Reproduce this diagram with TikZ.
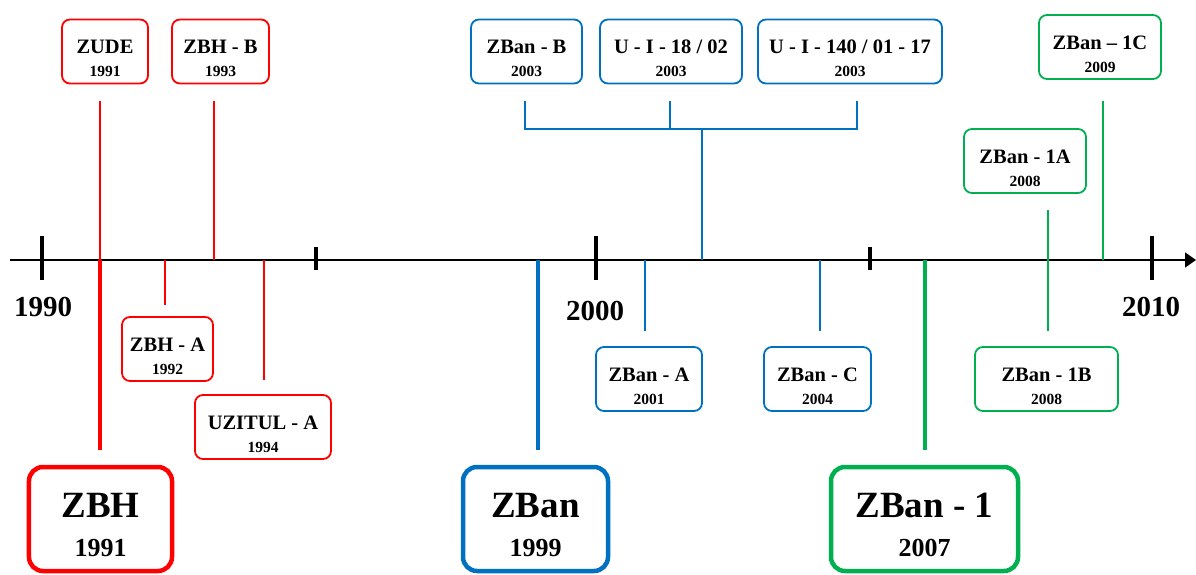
\documentclass[tikz,border=0pt]{standalone}
\usepackage{fontspec}
\setmainfont{Liberation Serif}
\usepackage{xcolor}
\usepackage{tikz}
\usetikzlibrary{arrows.meta,positioning,calc}

\definecolor{zred}{RGB}{255,0,0}
\definecolor{zblue}{RGB}{0,112,192}
\definecolor{zgreen}{RGB}{0,176,80}

% name over year, the strut pushes the two lines down in the box
\newcommand{\evlabel}[2]{\rule{0pt}{28bp}{\fontsize{20.5bp}{23bp}\selectfont #1}\\#2}
\newcommand{\biglabel}[2]{\rule{0pt}{37bp}{\fontsize{37bp}{39bp}\selectfont #1}\\#2}

\begin{document}
\begin{tikzpicture}[
    x=1bp, y=-1bp,
    font=\bfseries,
    ev/.style={draw, rounded corners=8bp, line width=1.8bp, align=center,
      inner sep=0pt, minimum height=64bp,
      font=\bfseries\fontsize{15.5bp}{23bp}\selectfont},
    big/.style={draw, rounded corners=14bp, line width=4.5bp, align=center,
      inner sep=0pt, minimum height=104bp,
      font=\bfseries\fontsize{26bp}{39bp}\selectfont},
    redev/.style={ev, draw=zred},
    blueev/.style={ev, draw=zblue},
    greenev/.style={ev, draw=zgreen},
    link/.style={line width=1.8bp},
    trunk/.style={line width=4.5bp},
    major/.style={line width=3.8bp},
    minor/.style={line width=3.2bp},
    decade/.style={anchor=base, font=\bfseries\fontsize{29bp}{29bp}\selectfont},
  ]
  \useasboundingbox (0,0) rectangle (1196,575);

  % Time axis
  \draw[line width=1.8bp, -{Triangle[length=11bp, width=15bp]}] (10,260) -- (1196,260);
  \foreach \x in {42,596,1152} \draw[major] (\x,236) -- (\x,280);
  \foreach \x in {316,870} \draw[minor] (\x,247) -- (\x,270);
  \node[decade] (d1990) at (43,317) {1990};
  \node[decade] (d2000) at (595,321) {2000};
  \node[decade] (d2010) at (1151,317) {2010};

  % Points on the axis
  \coordinate (a91) at (100,260);
  \coordinate (a92) at (165,260);
  \coordinate (a93) at (214,260);
  \coordinate (a94) at (264,260);
  \coordinate (a99) at (538,260);
  \coordinate (a01) at (645,260);
  \coordinate (a03) at (702,260);
  \coordinate (a04) at (820,260);
  \coordinate (a07) at (925,260);
  \coordinate (a08) at (1048,260);
  \coordinate (a09) at (1103,260);
  \coordinate (brk) at (702,129);

  % ZBH
  \node[redev, minimum width=86bp] (zude) at (105,51.5) {\evlabel{ZUDE}{1991}};
  \node[redev, minimum width=97bp] (zbhb) at (220.5,51.5) {\evlabel{ZBH - B}{1993}};
  \node[redev, minimum width=91bp] (zbha) at (167.5,349) {\evlabel{ZBH - A}{1992}};
  \node[redev, minimum width=136bp] (uzitul) at (263,427) {\evlabel{UZITUL - A}{1994}};
  \node[big, draw=zred, minimum width=143bp] (zbh) at (100.5,519) {\biglabel{ZBH}{1991}};

  % ZBan
  \node[blueev, minimum width=111bp] (zbanb) at (526.5,51.5) {\evlabel{ZBan - B}{2003}};
  \node[blueev, minimum width=142bp] (ui18) at (671,51.5) {\evlabel{U - I - 18 / 02}{2003}};
  \node[blueev, minimum width=184bp] (ui140) at (850,51.5) {\evlabel{U - I - 140 / 01 - 17}{2003}};
  \node[blueev, minimum width=106bp] (zbana) at (649,379) {\evlabel{ZBan - A}{2001}};
  \node[blueev, minimum width=107bp] (zbanc) at (817.5,379) {\evlabel{ZBan - C}{2004}};
  \node[big, draw=zblue, minimum width=145bp] (zban) at (535.5,519) {\biglabel{ZBan}{1999}};

  % ZBan - 1
  \node[greenev, minimum width=122bp] (zb1c) at (1100,47) {\evlabel{ZBan -- 1C}{2009}};
  \node[greenev, minimum width=122bp] (zb1a) at (1025,161) {\evlabel{ZBan - 1A}{2008}};
  \node[greenev, minimum width=143bp] (zb1b) at (1046.5,379) {\evlabel{ZBan - 1B}{2008}};
  \node[big, draw=zgreen, minimum width=187bp] (zb1) at (924.5,519) {\biglabel{ZBan - 1}{2007}};

  % Red links
  \draw[link, draw=zred, shorten <=17bp] (zude.south -| a91) -- (a91);
  \draw[link, draw=zred, shorten <=17bp] (zbhb.south -| a93) -- (a93);
  \draw[link, draw=zred, shorten >=11bp] (a92) -- (zbha.north -| a92);
  \draw[link, draw=zred, shorten >=14bp] (a94) -- (uzitul.north -| a94);
  \draw[trunk, draw=zred, shorten >=15bp] (a91) -- (zbh.north -| a91);

  % Blue links
  \draw[link, draw=zblue] ([xshift=-1.5bp, yshift=-17bp]zbanb.south) |- (brk)
    -| ([xshift=7bp, yshift=-17bp]ui140.south);
  \draw[link, draw=zblue] ([xshift=-1bp, yshift=-17bp]ui18.south) -- ([xshift=-1bp]ui18.south |- brk);
  \draw[link, draw=zblue] (brk) -- (a03);
  \draw[link, draw=zblue, shorten >=15bp] (a01) -- (zbana.north -| a01);
  \draw[link, draw=zblue, shorten >=15bp] (a04) -- (zbanc.north -| a04);
  \draw[trunk, draw=zblue, shorten >=15bp] (a99) -- (zban.north -| a99);

  % Green links
  \draw[link, draw=zgreen, shorten <=21bp] (zb1c.south -| a09) -- (a09);
  \draw[link, draw=zgreen, shorten <=16bp, shorten >=15bp] (zb1a.south -| a08) -- (zb1b.north -| a08);
  \draw[trunk, draw=zgreen, shorten >=15bp] (a07) -- (zb1.north -| a07);
\end{tikzpicture}
\end{document}
